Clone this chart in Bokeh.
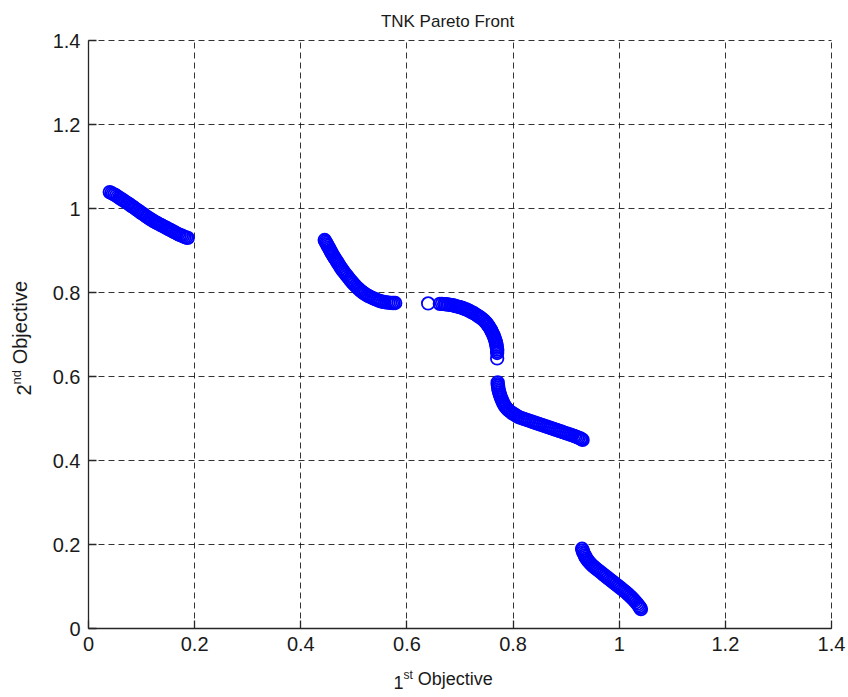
from bokeh.plotting import figure
from bokeh.models import Range1d, FixedTicker, Label
from bokeh.embed import file_html
from bokeh.resources import INLINE

# ---------------- data ----------------
seg1_x = [0.040, 0.043, 0.046, 0.049, 0.052, 0.055, 0.058, 0.061, 0.064, 0.067,
          0.070, 0.073, 0.076, 0.079, 0.082, 0.085, 0.088, 0.091, 0.094, 0.097,
          0.100, 0.103, 0.106, 0.109, 0.112, 0.115, 0.118, 0.121, 0.124, 0.127,
          0.130, 0.133, 0.136, 0.139, 0.142, 0.145, 0.148, 0.151, 0.154, 0.157,
          0.160, 0.163, 0.166, 0.169, 0.172, 0.175, 0.178, 0.181, 0.184, 0.187]
seg1_y = [1.039, 1.037, 1.035, 1.033, 1.031, 1.028, 1.026, 1.023, 1.021, 1.018,
          1.016, 1.013, 1.011, 1.008, 1.005, 1.003, 1.000, 0.997, 0.995, 0.992,
          0.989, 0.987, 0.984, 0.981, 0.979, 0.976, 0.974, 0.971, 0.969, 0.967,
          0.965, 0.963, 0.961, 0.959, 0.957, 0.955, 0.953, 0.951, 0.949, 0.947,
          0.945, 0.943, 0.941, 0.939, 0.937, 0.936, 0.934, 0.932, 0.931, 0.930]

seg2_x = [0.445, 0.4465, 0.448, 0.4495, 0.451, 0.4525, 0.454, 0.4555, 0.457, 0.4585,
          0.460, 0.462, 0.464, 0.466, 0.468, 0.470, 0.472, 0.474, 0.476, 0.478,
          0.480, 0.4825, 0.485, 0.4875, 0.490, 0.4925, 0.495, 0.4975, 0.500, 0.503,
          0.506, 0.509, 0.512, 0.515, 0.518, 0.521, 0.524, 0.527, 0.530, 0.5335,
          0.537, 0.5405, 0.544, 0.5475, 0.551, 0.5545, 0.558, 0.5615, 0.565, 0.5685,
          0.572, 0.575, 0.578]
seg2_y = [0.925, 0.9215, 0.918, 0.9145, 0.911, 0.9075, 0.904, 0.9005, 0.897, 0.8935,
          0.890, 0.886, 0.882, 0.878, 0.874, 0.870, 0.866, 0.862, 0.858, 0.8545,
          0.851, 0.847, 0.843, 0.839, 0.835, 0.831, 0.827, 0.8235, 0.820, 0.816,
          0.812, 0.8085, 0.805, 0.802, 0.799, 0.7965, 0.794, 0.792, 0.790, 0.788,
          0.786, 0.784, 0.782, 0.7805, 0.779, 0.778, 0.777, 0.7765, 0.776, 0.7755,
          0.775, 0.775, 0.775]

seg3_x = [0.640, 0.662, 0.666, 0.670, 0.673, 0.676, 0.679, 0.682, 0.685, 0.688,
          0.691, 0.694, 0.697, 0.700, 0.703, 0.706, 0.709, 0.712, 0.715, 0.718,
          0.721, 0.724, 0.727, 0.730, 0.733, 0.736, 0.739, 0.742, 0.745, 0.7475,
          0.750, 0.752, 0.754, 0.756, 0.758, 0.7595, 0.761, 0.7625, 0.764, 0.765,
          0.766, 0.767, 0.768, 0.7685, 0.769, 0.7695, 0.770, 0.770, 0.770, 0.770]
seg3_y = [0.774, 0.773, 0.773, 0.7725, 0.772, 0.7715, 0.771, 0.7705, 0.770, 0.769,
          0.768, 0.767, 0.766, 0.765, 0.764, 0.7625, 0.761, 0.7595, 0.758, 0.756,
          0.754, 0.752, 0.750, 0.7475, 0.745, 0.7425, 0.740, 0.737, 0.734, 0.7305,
          0.727, 0.7235, 0.720, 0.716, 0.712, 0.708, 0.704, 0.700, 0.696, 0.692,
          0.688, 0.684, 0.680, 0.676, 0.672, 0.668, 0.664, 0.660, 0.656, 0.643]

seg4_x = [0.771, 0.771, 0.7715, 0.772, 0.7725, 0.773, 0.774, 0.775, 0.776, 0.777,
          0.7785, 0.780, 0.7815, 0.783, 0.785, 0.787, 0.7895, 0.792, 0.795, 0.798,
          0.801, 0.804, 0.807, 0.810, 0.8135, 0.817, 0.8205, 0.824, 0.8275, 0.831,
          0.8345, 0.838, 0.8415, 0.845, 0.8485, 0.852, 0.8555, 0.859, 0.8625, 0.866,
          0.8695, 0.873, 0.8765, 0.880, 0.8835, 0.887, 0.8905, 0.894, 0.8975, 0.901,
          0.9045, 0.908, 0.9115, 0.915, 0.918, 0.921, 0.924, 0.927, 0.929, 0.931]
seg4_y = [0.586, 0.582, 0.578, 0.574, 0.570, 0.566, 0.562, 0.558, 0.554, 0.550,
          0.5455, 0.541, 0.537, 0.533, 0.529, 0.5255, 0.522, 0.519, 0.516, 0.5135,
          0.511, 0.5085, 0.506, 0.504, 0.502, 0.5005, 0.499, 0.4975, 0.496, 0.4945,
          0.493, 0.4915, 0.490, 0.4885, 0.487, 0.4855, 0.484, 0.4825, 0.481, 0.4795,
          0.478, 0.4765, 0.475, 0.4735, 0.472, 0.4705, 0.469, 0.4675, 0.466, 0.4645,
          0.463, 0.4615, 0.460, 0.4585, 0.457, 0.4555, 0.454, 0.4525, 0.451, 0.449]

seg5_x = [0.930, 0.931, 0.932, 0.9335, 0.935, 0.9365, 0.938, 0.940, 0.942, 0.9445,
          0.947, 0.9495, 0.952, 0.955, 0.958, 0.961, 0.964, 0.967, 0.970, 0.973,
          0.976, 0.979, 0.982, 0.985, 0.988, 0.991, 0.994, 0.997, 1.000, 1.003,
          1.006, 1.009, 1.012, 1.015, 1.018, 1.021, 1.024, 1.0265, 1.029, 1.0315,
          1.034, 1.036, 1.038, 1.0395, 1.041]
seg5_y = [0.190, 0.186, 0.182, 0.178, 0.174, 0.1705, 0.167, 0.1635, 0.160, 0.1565,
          0.153, 0.150, 0.147, 0.144, 0.141, 0.138, 0.135, 0.132, 0.129, 0.126,
          0.123, 0.120, 0.117, 0.114, 0.111, 0.108, 0.105, 0.102, 0.099, 0.096,
          0.093, 0.090, 0.087, 0.0835, 0.080, 0.0765, 0.073, 0.0695, 0.066, 0.0625,
          0.059, 0.0555, 0.052, 0.049, 0.046]

tick_values = [0, 0.2, 0.4, 0.6, 0.8, 1.0, 1.2, 1.4]
tick_labels = ["0", "0.2", "0.4", "0.6", "0.8", "1", "1.2", "1.4"]

title_text = "TNK Pareto Front"
xlabel_parts = ["1", "st", "Objective"]
ylabel_parts = ["2", "nd", "Objective"]

# ---------------- layout geometry (canvas pixels) ----------------
W, H = 848, 697
AX_L, AX_R, AX_T, AX_B = 88, 831, 40, 628      # axes box on the canvas
LO, HI = 0.0, 1.4
sx = (AX_R - AX_L) / (HI - LO)
sy = (AX_B - AX_T) / (HI - LO)

def px2x(px):
    return LO + (px - AX_L) / sx

def py2y(py):
    return LO + (AX_B - py) / sy

FONT = "Liberation Sans"
FS_TICK = 20
INK = "#1a1a1a"

# the frame covers the whole canvas; the axes are pinned at 0 with bounds
p = figure(width=W, height=H, output_backend="svg", toolbar_location=None,
           x_range=Range1d(px2x(0), px2x(W)), y_range=Range1d(py2y(H), py2y(0)),
           min_border=0)
p.outline_line_color = None
p.background_fill_color = "white"
p.border_fill_color = "white"

# grid
GRID = dict(color="#111111", dash="6 4", width=1, alpha=0.85)
for g in (p.xgrid[0], p.ygrid[0]):
    g.ticker = FixedTicker(ticks=tick_values)
    g.bounds = (LO, HI)
    g.grid_line_color = GRID["color"]
    g.grid_line_dash = GRID["dash"]
    g.grid_line_width = GRID["width"]
    g.grid_line_alpha = GRID["alpha"]
if "cross_bounds" in p.xgrid[0].properties():
    p.xgrid[0].cross_bounds = (LO, HI)
    p.ygrid[0].cross_bounds = (LO, HI)
else:
    p.xgrid[0].visible = False
    p.ygrid[0].visible = False
    n = len(tick_values)
    p.segment(x0=tick_values, y0=[LO] * n, x1=tick_values, y1=[HI] * n,
              line_color=GRID["color"], line_dash=GRID["dash"],
              line_width=GRID["width"], line_alpha=GRID["alpha"])
    p.segment(x0=[LO] * n, y0=tick_values, x1=[HI] * n, y1=tick_values,
              line_color=GRID["color"], line_dash=GRID["dash"],
              line_width=GRID["width"], line_alpha=GRID["alpha"])

xs = seg1_x + seg2_x + seg3_x + seg4_x + seg5_x
ys = seg1_y + seg2_y + seg3_y + seg4_y + seg5_y
p.scatter(xs, ys, marker="circle", size=12.5, fill_color=None,
          line_color="#0000ff", line_width=1.8)

for ax in (p.xaxis[0], p.yaxis[0]):
    ax.fixed_location = LO
    ax.bounds = (LO, HI)
    ax.ticker = FixedTicker(ticks=tick_values)
    ax.major_label_overrides = {v: s for v, s in zip(tick_values, tick_labels)}
    ax.major_tick_in = 8
    ax.major_tick_out = 0
    ax.minor_tick_line_color = None
    ax.axis_line_color = "#262626"
    ax.axis_line_width = 1.3
    ax.major_tick_line_color = "#262626"
    ax.major_tick_line_width = 1.3
    ax.major_label_text_font = FONT
    ax.major_label_text_font_size = f"{FS_TICK}px"
    ax.major_label_text_color = INK
    ax.major_label_standoff = 8


def lab(x, y, text, size, **kw):
    p.add_layout(Label(x=x, y=y, text=text, text_font=FONT,
                       text_font_size=f"{size}px", text_color=INK, **kw))

# title
lab(px2x(447), py2y(21), title_text, 17,
    text_align="center", text_baseline="alphabetic")

# x label: 1^st Objective
FX, FXS = 18, 12
x0 = 393
w1 = 0.556 * FX
wst = 0.778 * FXS
wsp = 0.278 * FX
lab(px2x(x0), py2y(688), xlabel_parts[0], FX)
lab(px2x(x0 + w1), py2y(681), xlabel_parts[1], FXS)
lab(px2x(x0 + w1 + wst + wsp), py2y(688), xlabel_parts[2], FX)

# y label: 2^nd Objective (rotated)
FY, FYS = 20, 13
y0 = 395
w2 = 0.556 * FY
wnd = 1.112 * FYS
wsp = 0.278 * FY
lab(px2x(30), py2y(y0), ylabel_parts[0], FY, angle=90, angle_units="deg")
lab(px2x(23), py2y(y0 - w2), ylabel_parts[1], FYS, angle=90, angle_units="deg")
lab(px2x(30), py2y(y0 - w2 - wnd - wsp), ylabel_parts[2], FY, angle=90, angle_units="deg")

open("out.html", "w").write(file_html(p, INLINE))
